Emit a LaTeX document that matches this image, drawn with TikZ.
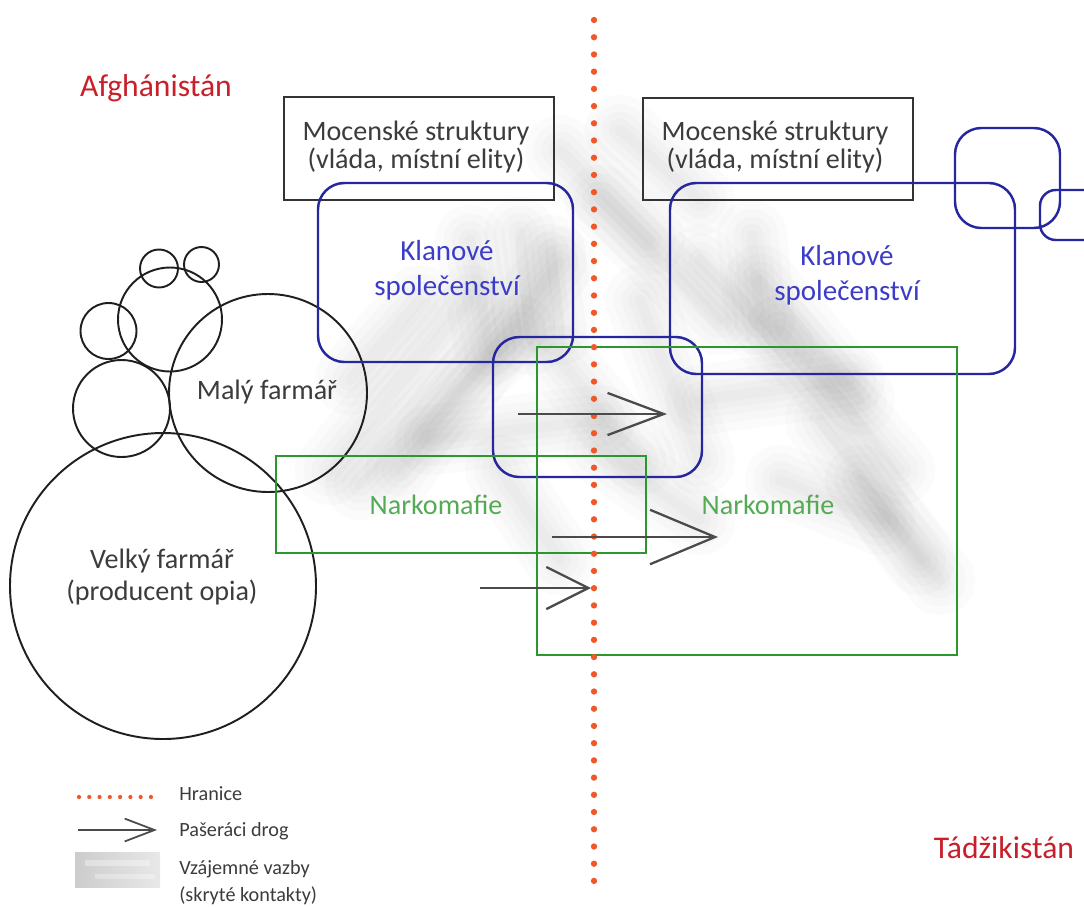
\documentclass[tikz,border=0pt]{standalone}
\usepackage{fontspec}
\setmainfont{Carlito}
\usetikzlibrary{arrows.meta}
\def\pxunit{0.02cm}
\definecolor{navy}{RGB}{38,38,158}
\definecolor{bluetxt}{RGB}{60,60,200}
\definecolor{grn}{RGB}{45,150,45}
\definecolor{grntxt}{RGB}{85,170,85}
\definecolor{redtxt}{RGB}{200,32,42}
\definecolor{borderred}{RGB}{240,88,42}
\definecolor{arrgray}{RGB}{75,75,75}
\definecolor{txtgray}{RGB}{60,60,60}
\newcommand{\hazeline}[2]{%
  \draw[haze, line width=40pt] #1 -- #2;
  \draw[haze, line width=30pt] #1 -- #2;
  \draw[haze, line width=21pt] #1 -- #2;
  \draw[haze, line width=13pt] #1 -- #2;
  \draw[haze, line width=6pt] #1 -- #2;}
\tikzset{
  mocbox/.style={rectangle, draw=black!80, line width=1.1pt, inner sep=0pt},
  klanbox/.style={rectangle, draw=navy, line width=1.4pt, rounded corners=15pt, inner sep=0pt},
  narkbox/.style={rectangle, draw=grn, line width=1.1pt, inner sep=0pt},
  farm/.style={circle, draw=black!88, line width=1.1pt, inner sep=0pt},
  lbl/.style={font=\fontsize{16}{18}\selectfont, align=center, text=txtgray, inner sep=0pt},
  klantxt/.style={lbl, text=bluetxt, font=\fontsize{16.5}{20}\selectfont},
  narktxt/.style={lbl, text=grntxt},
  country/.style={font=\fontsize{18}{21}\selectfont, text=redtxt, inner sep=0pt},
  legtxt/.style={font=\fontsize{11.5}{14}\selectfont, text=txtgray, anchor=west, inner sep=0pt},
  smuggle/.style={draw=arrgray, line width=1.3pt},
  borderdots/.style={draw=borderred, line width=3.6pt, line cap=round, dash pattern=on 0pt off 9.8pt},
  haze/.style={draw=black, opacity=0.014, line cap=round}
}
\begin{document}
\begin{tikzpicture}[x=0.02cm, y=-0.02cm]
\clip (0,0) rectangle (1084,906);
\fill[white] (0,0) rectangle (1084,906);

% hidden contacts (haze)
\hazeline{(330,470)}{(470,300)}
\hazeline{(360,485)}{(520,330)}
\hazeline{(400,470)}{(560,262)}
\hazeline{(470,240)}{(490,350)}
\hazeline{(520,232)}{(530,340)}
\hazeline{(550,250)}{(560,330)}
\hazeline{(430,440)}{(600,420)}
\hazeline{(560,150)}{(650,240)}
\hazeline{(600,200)}{(720,320)}
\hazeline{(620,130)}{(700,200)}
\hazeline{(700,260)}{(780,350)}
\hazeline{(760,280)}{(860,400)}
\hazeline{(780,330)}{(900,470)}
\hazeline{(820,420)}{(920,560)}
\hazeline{(860,480)}{(940,580)}
\hazeline{(700,400)}{(850,380)}
\hazeline{(600,450)}{(700,520)}
\hazeline{(500,470)}{(560,560)}
\hazeline{(752,235)}{(760,320)}
\hazeline{(560,360)}{(640,460)}
\hazeline{(350,380)}{(420,300)}
\hazeline{(640,300)}{(700,460)}
\hazeline{(780,480)}{(880,520)}

% farmers
\node[farm, minimum size=306*\pxunit] (velky) at (163,586) {};
\node[farm, minimum size=198*\pxunit] (maly) at (268,393) {};
\node[farm, minimum size=97*\pxunit] (f3) at (121.5,408.5) {};
\node[farm, minimum size=104*\pxunit] (f4) at (170,319.5) {};
\node[farm, minimum size=56*\pxunit] (f5) at (108.5,331) {};
\node[farm, minimum size=38*\pxunit] (f6) at (159,268.5) {};
\node[farm, minimum size=35*\pxunit] (f7) at (201.5,264.5) {};
\node[lbl] (velkytxt) at (162,577) {Velký farmář\\(producent opia)};
\node[lbl] (malytxt) at (267,392) {Malý farmář};

% power structures
\node[mocbox, minimum width=270*\pxunit, minimum height=103*\pxunit] (mocL) at (419,148.5) {};
\node[mocbox, minimum width=270*\pxunit, minimum height=102*\pxunit] (mocR) at (778,149) {};
\node[lbl, font=\fontsize{16}{16.5}\selectfont] (mocLtxt) at (416,147) {Mocenské struktury\\(vláda, místní elity)};
\node[lbl, font=\fontsize{16}{16.5}\selectfont] (mocRtxt) at (775,147) {Mocenské struktury\\(vláda, místní elity)};

% clans
\node[klanbox, minimum width=255*\pxunit, minimum height=179*\pxunit] (klanL) at (445.5,272.5) {};
\node[klanbox, minimum width=209*\pxunit, minimum height=140*\pxunit] (klanM) at (597.5,407) {};
\node[klanbox, minimum width=345*\pxunit, minimum height=191*\pxunit] (klanR) at (842.5,278.5) {};
\node[klanbox, minimum width=105*\pxunit, minimum height=100*\pxunit] (klanT) at (1007.5,178) {};
\node[klanbox, rounded corners=9pt, minimum width=70*\pxunit, minimum height=50*\pxunit] (klanT2) at (1075,215) {};
\node[klantxt] (klanLtxt) at (447,270) {Klanové\\společenství};
\node[klantxt] (klanRtxt) at (847,275) {Klanové\\společenství};

% drug mafia
\node[narkbox, minimum width=370*\pxunit, minimum height=97*\pxunit] (narkL) at (461,504.5) {};
\node[narkbox, minimum width=420*\pxunit, minimum height=308*\pxunit] (narkR) at (747,501) {};
\node[narktxt] (narkLtxt) at (436,505) {Narkomafie};
\node[narktxt] (narkRtxt) at (768,505) {Narkomafie};

% countries
\node[country] (afg) at (156,88) {Afghánistán};
\node[country] (tad) at (1004,848) {Tádžikistán};

% border
\coordinate (btop) at (594,20);
\coordinate (bbot) at (594,890);
\draw[borderdots] (btop) -- (bbot);

% smugglers
\coordinate (a1s) at (518,414);
\coordinate (a1e) at (667,414);
\coordinate (a2s) at (552,537);
\coordinate (a2e) at (718,537);
\coordinate (a3s) at (480,588);
\coordinate (a3e) at (591,588);
\draw[smuggle, -{Straight Barb[length=32pt, width=24pt]}] (a1s) -- (a1e);
\draw[smuggle, -{Straight Barb[length=37pt, width=31pt]}] (a2s) -- (a2e);
\draw[smuggle, -{Straight Barb[length=24pt, width=24pt]}] (a3s) -- (a3e);

% legend
\coordinate (l1s) at (79,797);
\coordinate (l1e) at (151,797);
\draw[borderdots, line width=2.4pt, dash pattern=on 0pt off 5.85pt] (l1s) -- (l1e);
\node[legtxt] (lg1) at (179,794) {Hranice};
\coordinate (l2s) at (78,830);
\coordinate (l2e) at (157,830);
\draw[smuggle, line width=1pt, -{Straight Barb[length=17pt, width=13pt]}] (l2s) -- (l2e);
\node[legtxt] (lg2) at (179,831) {Pašeráci drog};
\shade[left color=black!20, right color=black!9] (75,852) rectangle (160,887);
\fill[white, opacity=0.35] (85,860) rectangle (150,866);
\fill[white, opacity=0.3] (95,874) rectangle (155,879);
\node[legtxt] (lg3) at (179,869) {Vzájemné vazby};
\node[legtxt] (lg4) at (179,896) {(skryté kontakty)};
\end{tikzpicture}
\end{document}
